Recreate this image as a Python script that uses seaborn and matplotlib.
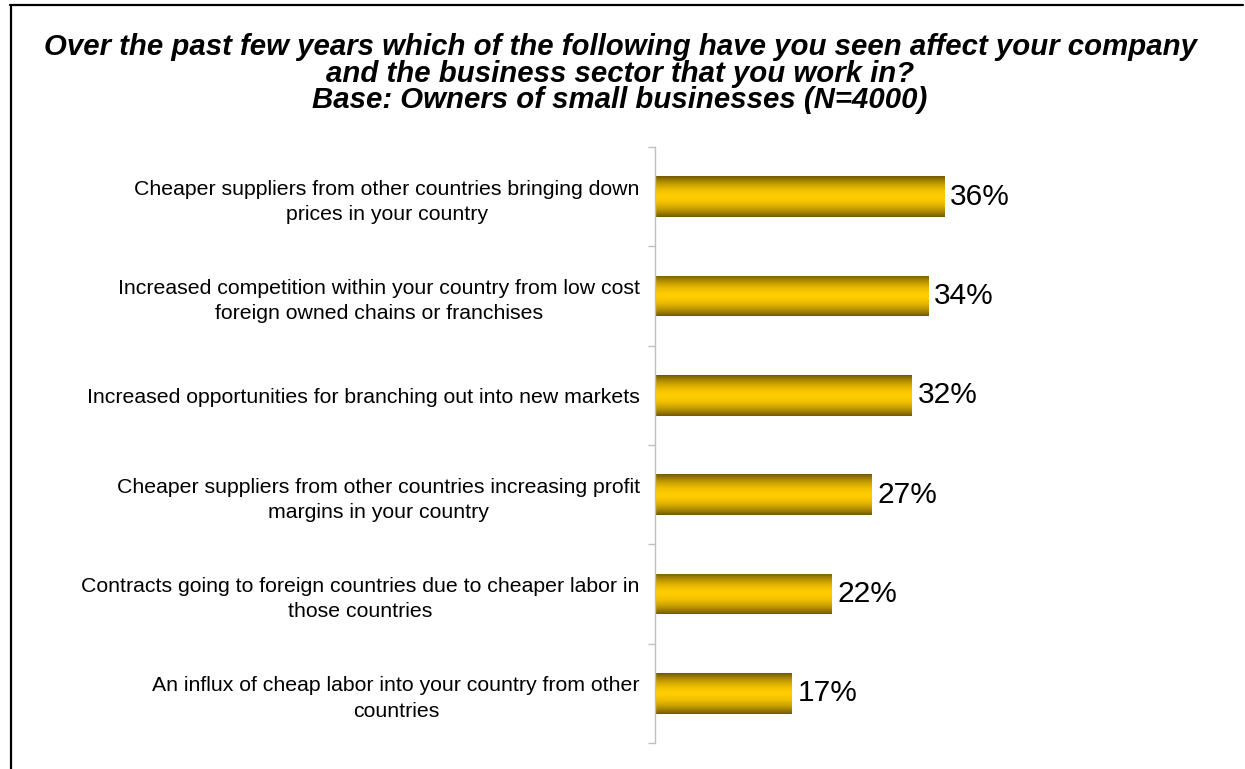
import numpy as np
import pandas as pd
import matplotlib
matplotlib.use("Agg")
import matplotlib.pyplot as plt
import seaborn as sns
from matplotlib.colors import LinearSegmentedColormap
from matplotlib.lines import Line2D

# Survey responses
categories = [
    "Cheaper suppliers from other countries bringing down\nprices in your country",
    "Increased competition within your country from low cost\nforeign owned chains or franchises",
    "Increased opportunities for branching out into new markets",
    "Cheaper suppliers from other countries increasing profit\nmargins in your country",
    "Contracts going to foreign countries due to cheaper labor in\nthose countries",
    "An influx of cheap labor into your country from other\ncountries",
]
values = [36, 34, 32, 27, 22, 17]
value_labels = [f"{v}%" for v in values]
title_lines = [
    "Over the past few years which of the following have you seen affect your company",
    "and the business sector that you work in?",
    "Base: Owners of small businesses (N=4000)",
]

sns.set_theme(style="white")
plt.rcParams["font.family"] = ["Liberation Sans", "DejaVu Sans"]

W, H = 1245, 769
fig = plt.figure(figsize=(W / 100, H / 100), dpi=100)
fig.patch.set_facecolor("white")

px_per_unit = 8.03
ax = fig.add_axes([655 / W, (H - 743) / H, (1200 - 655) / W, (743 - 147) / H])
df = pd.DataFrame({"category": categories, "value": values})
sns.barplot(data=df, x="value", y="category", orient="h", width=0.41,
            color="#ffcc00", saturation=1, ax=ax)

# Metallic gold shading for each bar
dark = np.array([0x70, 0x58, 0x00]) / 255
bright = np.array([0xff, 0xcc, 0x00]) / 255
t = np.linspace(-1, 1, 256)
w = np.clip(np.abs(t), 0, 1) ** 1.8
rows = (1 - w)[:, None] * bright + w[:, None] * dark
gold = LinearSegmentedColormap.from_list("gold", rows)
grad = np.linspace(0, 1, 256)[:, None]
for patch in list(ax.patches):
    x0, y0 = patch.get_x(), patch.get_y()
    pw, ph = patch.get_width(), patch.get_height()
    patch.set_edgecolor("none")
    im = ax.imshow(grad, extent=[x0, x0 + pw, y0, y0 + ph], aspect="auto",
                   cmap=gold, origin="lower", interpolation="bilinear",
                   zorder=patch.get_zorder() + 0.1)
    im.set_clip_path(patch)

xmax = (1200 - 655) / px_per_unit
ax.set_xlim(0, xmax)
ax.set_ylim(len(categories) - 0.5, -0.5)

for i, (v, lab) in enumerate(zip(values, value_labels)):
    ax.text(v + 6 / px_per_unit, i, lab, va="center", ha="left",
            fontsize=21.5, color="black")

for s in ["top", "right", "bottom"]:
    ax.spines[s].set_visible(False)
ax.spines["left"].set_color("#bfbfbf")
ax.spines["left"].set_linewidth(1)

ax.set_xticks([])
ax.set_xlabel("")
ax.set_ylabel("")
ax.set_yticks(np.arange(-0.5, len(categories), 1.0))
ax.set_yticklabels([])
ax.tick_params(axis="y", which="major", left=True, length=5, width=1,
               color="#bfbfbf", direction="out")
ax.set_yticks(np.arange(len(categories)), minor=True)
ax.set_yticklabels(categories, minor=True, ha="right", multialignment="center",
                   linespacing=1.42, fontsize=15.3, color="black")
ax.tick_params(axis="y", which="minor", length=0, pad=11)

# Title, three tightly stacked lines
for y, line in zip([55, 82, 108], title_lines):
    fig.text(620 / W, 1 - y / H, line, ha="center", va="baseline",
             fontsize=21.2, fontweight="bold", fontstyle="italic", color="black")

# Outer frame
fig.add_artist(Line2D([10 / W, 1243 / W], [1 - 5 / H, 1 - 5 / H], color="black",
                      lw=1.6, transform=fig.transFigure))
fig.add_artist(Line2D([11 / W, 11 / W], [1 - 5 / H, 0], color="black",
                      lw=1.6, transform=fig.transFigure))

fig.savefig("out.png", dpi=100, facecolor="white")
